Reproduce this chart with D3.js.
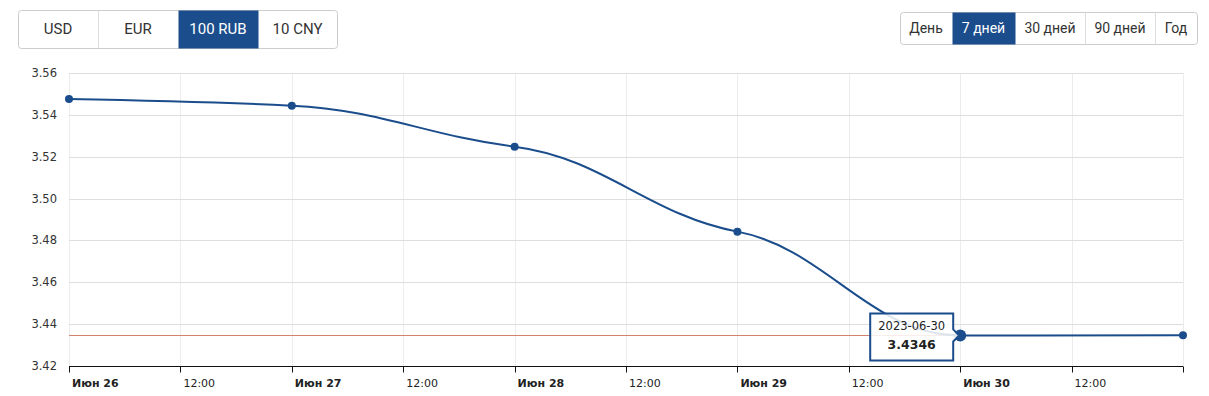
<!DOCTYPE html>
<html lang="ru">
<head>
<meta charset="UTF-8"/>
<title>Курс 100 RUB</title>
<script src="https://cdn.jsdelivr.net/npm/d3@7/dist/d3.min.js"></script>
<style>
body { margin: 0; background: #fff; }
.ylab { font: 11.5px "DejaVu Sans", Verdana, sans-serif; fill: #333; }
.xlab { font: 11px "DejaVu Sans", Verdana, sans-serif; fill: #222; }
.xlab.day { font-weight: bold; }
</style>
</head>
<body>
<svg id="chart"></svg>
<script>
// data
var dates = ["2023-06-26", "2023-06-27", "2023-06-28", "2023-06-29", "2023-06-30", "2023-07-01"];
var rates = [3.5476, 3.5444, 3.5248, 3.4842, 3.4346, 3.4347];
var currencies = ["USD", "EUR", "100 RUB", "10 CNY"];
var periods = ["День", "7 дней", "30 дней", "90 дней", "Год"];
var activeCurrency = "100 RUB", activePeriod = "7 дней";
var yTicks = [3.42, 3.44, 3.46, 3.48, 3.50, 3.52, 3.54, 3.56];
var hoverIndex = 4;

var width = 1209, height = 396;
var margin = {left: 69, right: 26, top: 73, bottom: 30};
var blue = "#1b4d8c";

var svg = d3.select("#chart").attr("width", width).attr("height", height);

var parse = d3.timeParse("%Y-%m-%d");
var points = dates.map(function(d, i) { return {date: parse(d), value: rates[i]}; });

var x = d3.scaleTime()
	.domain([parse("2023-06-26"), parse("2023-07-01")])
	.range([margin.left, width - margin.right]);
var y = d3.scaleLinear()
	.domain([3.42, 3.56])
	.range([height - margin.bottom, margin.top]);

var xTicks = x.ticks(d3.timeHour.every(12));

//////////// buttons ////////////
function buttonGroup(labels, active, opts) {
	var g = svg.append("g").attr("transform", "translate(" + opts.x + "," + opts.y + ")");
	var total = d3.sum(opts.widths);
	var offs = [0];
	opts.widths.forEach(function(w, i) { offs.push(offs[i] + w); });
	g.append("rect")
		.attr("x", 0.5).attr("y", 0.5)
		.attr("width", total).attr("height", opts.h)
		.attr("rx", 3)
		.attr("fill", "#fff").attr("stroke", "#ccc");
	var cell = g.selectAll("g.cell").data(labels).enter().append("g")
		.attr("transform", function(d, i) { return "translate(" + offs[i] + ",0)"; });
	cell.filter(function(d) { return d == active; }).append("rect")
		.attr("x", 0.5).attr("y", 0.5)
		.attr("width", function(d) { return opts.widths[labels.indexOf(d)]; })
		.attr("height", opts.h)
		.attr("fill", blue);
	cell.filter(function(d, i) { return i > 0 && d != active && labels[i - 1] != active; }).append("line")
		.attr("x1", 0.5).attr("x2", 0.5).attr("y1", 0.5).attr("y2", opts.h + 0.5)
		.attr("stroke", "#ddd");
	cell.append("text")
		.attr("x", function(d, i) { return opts.widths[i] / 2; })
		.attr("y", opts.h / 2 + opts.fs * 0.36)
		.attr("text-anchor", "middle")
		.attr("fill", function(d) { return d == active ? "#fff" : "#333"; })
		.style("font", opts.fs + "px " + opts.font)
		.text(function(d) { return d; });
}
buttonGroup(currencies, activeCurrency, {x: 18, y: 10, h: 38, widths: [80, 80, 80, 79], fs: 15, font: "Roboto, sans-serif"});
buttonGroup(periods, activePeriod, {x: 900, y: 12, h: 32, widths: [52, 63, 70, 70, 42], fs: 14, font: "Roboto, sans-serif"});

//////////// grid ////////////
var grid = svg.append("g").attr("class", "grid");
grid.selectAll("line.v").data(xTicks).enter().append("line")
	.attr("class", "v")
	.attr("x1", function(d) { return Math.round(x(d)) + 0.5; })
	.attr("x2", function(d) { return Math.round(x(d)) + 0.5; })
	.attr("y1", y(3.56)).attr("y2", y(3.42))
	.attr("stroke", "#ececec");
grid.selectAll("line.h").data(yTicks.slice(1)).enter().append("line")
	.attr("class", "h")
	.attr("x1", margin.left).attr("x2", width - margin.right)
	.attr("y1", function(d) { return Math.round(y(d)) + 0.5; })
	.attr("y2", function(d) { return Math.round(y(d)) + 0.5; })
	.attr("stroke", "#dedede");

svg.selectAll("text.ylab").data(yTicks).enter().append("text")
	.attr("class", "ylab")
	.attr("x", 57)
	.attr("y", function(d) { return y(d) + 4; })
	.attr("text-anchor", "end")
	.text(function(d) { return d3.format(".2f")(d); });

// x axis
var axis = svg.append("g").attr("transform", "translate(0," + (Math.round(y(3.42)) + 0.5) + ")");
axis.append("line")
	.attr("x1", margin.left).attr("x2", width - margin.right)
	.attr("stroke", "#111");
axis.selectAll("line.tick").data(xTicks).enter().append("line")
	.attr("x1", function(d) { return Math.round(x(d)) + 0.5; })
	.attr("x2", function(d) { return Math.round(x(d)) + 0.5; })
	.attr("y1", 0).attr("y2", 6)
	.attr("stroke", "#111");
var monthRu = ["Янв", "Фев", "Мар", "Апр", "Май", "Июн", "Июл", "Авг", "Сен", "Окт", "Ноя", "Дек"];
axis.selectAll("text").data(xTicks.slice(0, -1)).enter().append("text")
	.attr("class", function(d) { return d.getHours() == 0 ? "xlab day" : "xlab"; })
	.attr("x", function(d) { return x(d) + 3; })
	.attr("y", 20)
	.text(function(d) {
		return d.getHours() == 0 ? monthRu[d.getMonth()] + " " + d.getDate() : d3.timeFormat("%H:%M")(d);
	});

// current value line
var hp = points[hoverIndex];
svg.append("line")
	.attr("x1", margin.left).attr("x2", width - margin.right)
	.attr("y1", Math.round(y(hp.value)) + 0.5).attr("y2", Math.round(y(hp.value)) + 0.5)
	.attr("stroke", "#d08470").attr("stroke-width", 1);

//////////// spline (highcharts-like, flatter tangents) ////////////
var tangentK = 0.45;
function HcSpline(context) { this._context = context; }
HcSpline.prototype = {
	areaStart: function() {}, areaEnd: function() {},
	lineStart: function() { this._x = []; this._y = []; },
	point: function(px, py) { this._x.push(+px); this._y.push(+py); },
	lineEnd: function() {
		var xs = this._x, ys = this._y, n = xs.length, c = this._context;
		if (!n) return;
		c.moveTo(xs[0], ys[0]);
		var sm = 1.5, den = sm + 1;
		var prx = xs[0], pry = ys[0];
		for (var i = 1; i < n; i++) {
			var lx = xs[i], ly = ys[i], rx = xs[i], ry = ys[i];
			if (i < n - 1) {
				lx = (sm * xs[i] + xs[i - 1]) / den; ly = (sm * ys[i] + ys[i - 1]) / den;
				rx = (sm * xs[i] + xs[i + 1]) / den; ry = (sm * ys[i] + ys[i + 1]) / den;
				var corr = ((ry - ly) * (rx - xs[i])) / (rx - lx) + ys[i] - ry;
				ly += corr; ry += corr;
				ly = ys[i] + tangentK * (ly - ys[i]);
				ry = ys[i] + tangentK * (ry - ys[i]);
				if (ly > ys[i - 1] && ly > ys[i]) { ly = Math.max(ys[i - 1], ys[i]); ry = 2 * ys[i] - ly; }
				else if (ly < ys[i - 1] && ly < ys[i]) { ly = Math.min(ys[i - 1], ys[i]); ry = 2 * ys[i] - ly; }
				if (ry > ys[i + 1] && ry > ys[i]) { ry = Math.max(ys[i + 1], ys[i]); ly = 2 * ys[i] - ry; }
				else if (ry < ys[i + 1] && ry < ys[i]) { ry = Math.min(ys[i + 1], ys[i]); ly = 2 * ys[i] - ry; }
			}
			c.bezierCurveTo(prx, pry, lx, ly, xs[i], ys[i]);
			prx = rx; pry = ry;
		}
	}
};

var line = d3.line()
	.x(function(d) { return x(d.date); })
	.y(function(d) { return y(d.value); })
	.curve(function(ctx) { return new HcSpline(ctx); });

svg.append("path")
	.datum(points)
	.attr("d", line)
	.attr("fill", "none")
	.attr("stroke", blue)
	.attr("stroke-width", 2);

svg.selectAll("circle.pt").data(points).enter().append("circle")
	.attr("cx", function(d) { return x(d.date); })
	.attr("cy", function(d) { return y(d.value); })
	.attr("r", function(d, i) { return i == hoverIndex ? 6 : 4; })
	.attr("fill", blue);

//////////// tooltip ////////////
var tx = x(hp.date), ty = y(hp.value);
var bw = 83, bh = 47, bx = tx - 7 - bw, by = ty - 22;
var tip = svg.append("g");
tip.append("path")
	.attr("d", "M" + bx + "," + by + "h" + bw + "v" + (ty - by - 6) + "l6,6l-6,6V" + (by + bh) + "H" + bx + "Z")
	.attr("fill", "rgba(255,255,255,0.85)")
	.attr("stroke", blue)
	.attr("stroke-width", 2);
tip.append("text")
	.attr("x", bx + bw / 2).attr("y", by + 17)
	.attr("text-anchor", "middle")
	.style("font", "11.5px 'DejaVu Sans', Verdana, sans-serif")
	.attr("fill", "#222")
	.text(d3.timeFormat("%Y-%m-%d")(hp.date));
tip.append("text")
	.attr("x", bx + bw / 2).attr("y", by + 36)
	.attr("text-anchor", "middle")
	.style("font", "bold 12.5px 'DejaVu Sans', Verdana, sans-serif")
	.attr("fill", "#222")
	.text(d3.format(".4f")(hp.value));
</script>
</body>
</html>
